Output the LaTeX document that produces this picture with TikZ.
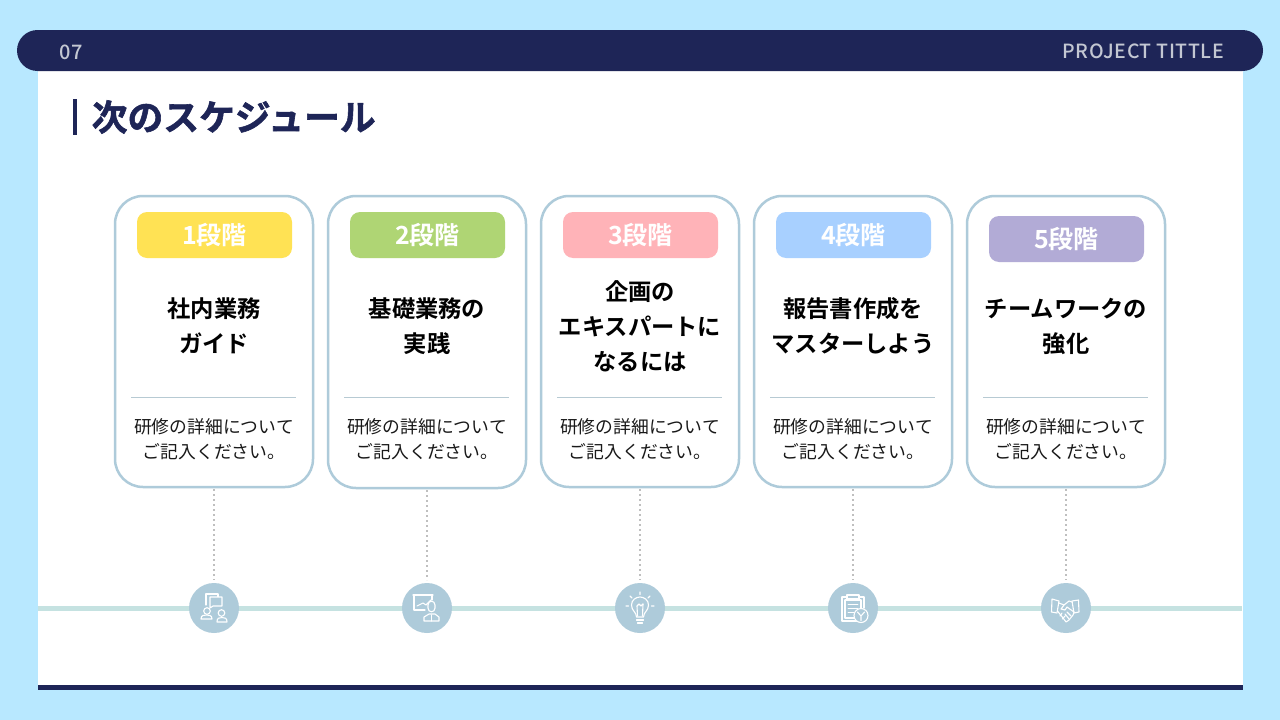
\documentclass[tikz,border=0pt]{standalone}
\usepackage{fontspec}
\setmainfont{Noto Sans CJK JP}[BoldFont={Noto Sans CJK JP Bold}]
\newfontfamily\hdfont[LetterSpace=2.8]{Noto Sans CJK JP Medium}
\newfontfamily\numfont{Noto Sans CJK JP Medium}
\newfontfamily\jpblack[FakeBold=1.6]{Noto Sans CJK JP Bold}
\definecolor{sky}{HTML}{B8E8FF}
\definecolor{navy}{HTML}{1E2557}
\definecolor{edgeblue}{HTML}{AECBDA}
\definecolor{rule}{HTML}{B7CAD3}
\definecolor{track}{HTML}{C5E2E1}
\definecolor{hdtext}{HTML}{C3C7D2}
\definecolor{cyellow}{HTML}{FFE254}
\definecolor{cgreen}{HTML}{AFD574}
\definecolor{cpink}{HTML}{FFB3B8}
\definecolor{cblue}{HTML}{A8D0FF}
\definecolor{cpurple}{HTML}{B2ABD6}
\tikzset{
  x=1pt,y=-1pt,
  cardbox/.style={draw=edgeblue,line width=2.5pt,fill=white,rounded corners=28pt},
  badge/.style={rounded corners=10pt,inner sep=0pt,minimum width=155pt,minimum height=46pt,
    text=white,font=\fontsize{25}{25}\selectfont\bfseries},
  ttl/.style={align=center,inner sep=0pt,text=black,
    font=\fontsize{23.3}{35}\selectfont\bfseries},
  bodytxt/.style={align=center,inner sep=0pt,text=black!90,
    font=\fontsize{17.8}{25}\selectfont},
  dots/.style={draw=black!25,line width=2pt,dash pattern=on 2pt off 3pt},
  ico/.style={draw=white,line width=1.1pt,line join=round,line cap=round},
  disc/.style={circle,fill=edgeblue,minimum size=50pt,inner sep=0pt},
}
\begin{document}
\begin{tikzpicture}
\useasboundingbox (0,0) rectangle (1280,720);
\fill[sky] (0,0) rectangle (1280,720);
\fill[white] (38,60) rectangle (1243,690);
\fill[navy] (38,685) rectangle (1243,690);
\fill[navy,rounded corners=20.5pt] (17,30) rectangle (1263,71);
\node[inner sep=0pt,text=hdtext,font=\numfont\fontsize{20}{20}\selectfont] (pagenum) at (71,52.5) {07};
\node[inner sep=0pt,text=hdtext,anchor=east,font=\hdfont\fontsize{19.5}{20}\selectfont] (proj) at (1224,51.5) {PROJECT TITTLE};
\fill[navy] (73,99) rectangle (76.5,135);
\node[inner sep=0pt,anchor=west,text=navy,font=\jpblack\fontsize{35.8}{36}\selectfont] (heading) at (91.5,117) {次のスケジュール};
% track
\draw[track,line width=5pt] (38,608) -- (1242,608);
% cards
\foreach \n/\l/\cb/\by/\bcol/\lab/\t/\ty in {
  1/115/487/235/cyellow/1段階/{社内業務\\ガイド}/326,
  2/328/488/235/cgreen/2段階/{基礎業務の\\実践}/326,
  3/541/487/235/cpink/3段階/{企画の\\エキスパートに\\なるには}/326.5,
  4/754/487/235/cblue/4段階/{報告書作成を\\マスターしよう}/326,
  5/967/487/239/cpurple/5段階/{チームワークの\\強化}/326}{
  \pgfmathsetmacro{\cx}{\l+99}
  \node[disc] (d\n) at (\cx,608) {};
  \coordinate (top\n) at (\cx,\cb);
  \coordinate (low\n) at (\cx,580);
  \draw[dots] (top\n) ++(0,2) -- (low\n);
  \draw[cardbox] (\l,196) rectangle (\l+198,\cb);
  \node[badge,fill=\bcol] (b\n) at (\cx+0.5,\by) {\lab};
  \node[ttl] (t\n) at (\cx,\ty) {\t};
  \draw[rule,line width=0.8pt] (\l+16,397) -- (\l+181,397);
  \node[bodytxt] (x\n) at (\cx,439) {研修の詳細について\\ご記入ください。};
}
% icon 1: meeting
\begin{scope}[shift={(d1.center)},ico]
  \draw (-8,-3) -- (-8,-14) -- (4,-14) -- (4,-11);
  \draw[fill=edgeblue] (-4,-11) -- (8,-11) -- (8,-2) -- (-1,-2) -- (-4,0) -- cycle;
  \draw (-7,3) circle (3.3);
  \draw (-13,11) .. controls (-13,7) and (-10,7) .. (-7.5,7) .. controls (-5,7) and (-2,7) .. (-2,11) -- cycle;
  \draw (7.5,5) circle (3.3);
  \draw (3,14) .. controls (3,10) and (5,9.5) .. (8,9.5) .. controls (11,9.5) and (13,10) .. (13,14) -- cycle;
\end{scope}
% icon 2: presenter
\begin{scope}[shift={(d2.center)},ico]
  \draw (-14,-13) -- (6,-13);
  \draw (-13,-13) -- (-13,2) -- (-2,2);
  \draw (5,-13) -- (5,-8);
  \draw (-10,-2) -- (-4,-5) -- (-1,-3) -- (4,-8);
  \draw[fill=edgeblue] (1,-3) .. controls (1,-8) and (8,-8) .. (8,-3) -- (8,0) .. controls (8,5) and (1,5) .. (1,0) -- cycle;
  \draw (-3,13) -- (-3,9) -- (2,6) -- (8,6) -- (12,9) -- (12,13) -- cycle;
  \draw (4.5,7) -- (4.5,13);
\end{scope}
% icon 3: bulb
\begin{scope}[shift={(d3.center)},ico]
  \draw (-3.5,9) .. controls (-3.5,4) and (-8.5,3) .. (-8.5,-3) .. controls (-8.5,-8) and (-4,-11) .. (0,-11)
     .. controls (4,-11) and (8.5,-8) .. (8.5,-3) .. controls (8.5,3) and (3.5,4) .. (3.5,9) -- cycle;
  \draw (-3.5,12) -- (3.5,12) (-2.5,15) -- (2.5,15);
  \draw (-2.5,8) -- (-3,-2) -- (-1,-4) -- (1,-2) -- (3,-4);
  \draw (3,-4) -- (2.5,8);
  \draw (0,-16) -- (0,-13.5) (-10,-12) -- (-8,-10) (10,-12) -- (8,-10) (-14,-2) -- (-11.5,-2) (14,-2) -- (11.5,-2);
\end{scope}
% icon 4: clipboard
\begin{scope}[shift={(d4.center)},ico]
  \draw (-11,-11) -- (-11,13) -- (4,13);
  \draw (-11,-11) -- (-6,-11) (6,-11) -- (11,-11) -- (11,0);
  \draw (-6,-13) rectangle (6,-9);
  \draw (-8,-8) -- (-8,10) -- (2,10) (-8,-8) -- (8,-8) -- (8,0);
  \draw[line width=0.9pt] (-5,-4) -- (5,-4) (-5,0) -- (5,0) (-5,4) -- (1,4);
  \draw[fill=edgeblue] (8,7.5) circle (7);
  \draw (4.5,4) -- (8,8) -- (11.5,4) (8,8) -- (8,12.5);
\end{scope}
% icon 5: handshake
\begin{scope}[shift={(d5.center)},ico]
  \draw (-14,-9) -- (-7,-7) -- (-9,5) -- (-14.5,4) -- cycle;
  \draw (12.5,-8) -- (6,-7) -- (8,5) -- (13,4) -- cycle;
  \draw (-7,-5) -- (-2,-3) -- (3,-7) -- (6,-6);
  \draw (-2,-3) -- (-5,1) -- (-1,2) -- (1,-1) -- (8,4);
  \draw (-8.5,3) -- (-3,10) -- (0,14) -- (3,12) -- (7,7) -- (8,4);
  \draw (-4,5) -- (-6,8) (-1,8) -- (-3.5,11) (1,4) -- (5,8) (-1,6) -- (3,11);
\end{scope}
\end{tikzpicture}
\end{document}
